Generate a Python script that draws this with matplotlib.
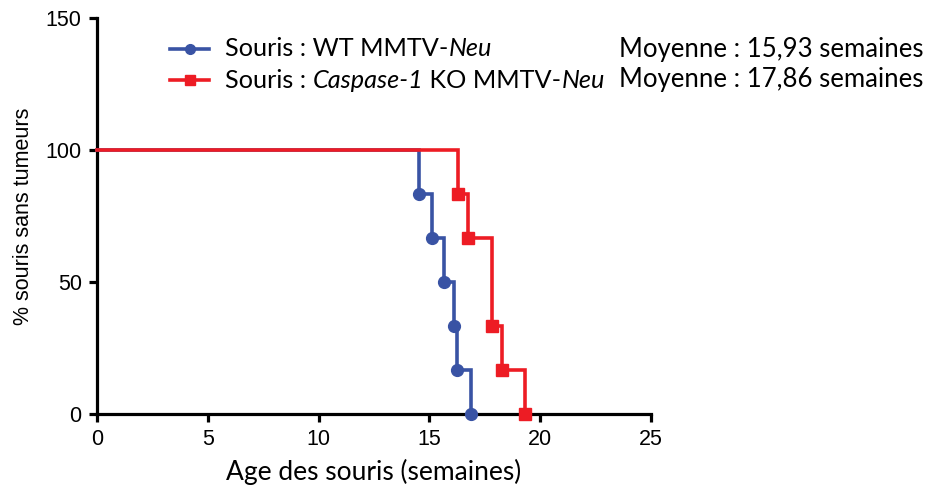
import matplotlib
matplotlib.use("Agg")
import matplotlib.pyplot as plt
from matplotlib.lines import Line2D

# Tumour-free survival, MMTV-Neu mice (age in weeks, % tumour-free)
wt_weeks = [14.53, 15.13, 15.67, 16.12, 16.26, 16.86]
wt_free = [83.33, 66.67, 50.0, 33.33, 16.67, 0.0]
ko_weeks = [16.30, 16.73, 17.84, 18.26, 19.30]
ko_free = [83.33, 66.67, 33.33, 16.67, 0.0]
start_free = 100.0

x_ticks = [0, 5, 10, 15, 20, 25]
y_ticks = [0, 50, 100, 150]

wt_label = [("Souris : WT MMTV-", "normal"), ("Neu", "italic")]
ko_label = [("Souris : ", "normal"), ("Caspase-1", "italic"),
            (" KO MMTV-", "normal"), ("Neu", "italic")]
wt_mean = "Moyenne : 15,93 semaines"
ko_mean = "Moyenne : 17,86 semaines"

x_label = "Age des souris (semaines)"
y_label = "% souris sans tumeurs"

BLUE = "#3953a4"
RED = "#ed1c24"
W, H = 930, 490
TEXT_FONT = "Lato"
AXIS_FONT = "Liberation Sans"

fig = plt.figure(figsize=(W / 100, H / 100), dpi=100)
ax = fig.add_axes([97 / W, 1 - 414 / H, (651 - 97) / W, (414 - 18) / H])


def fx(px):
    return px / W


def fy(py):
    return 1 - py / H


# survival steps
ax.step([0] + wt_weeks, [start_free] + wt_free, where="post", color=BLUE,
        lw=2.6, zorder=4, clip_on=False, solid_joinstyle="miter")
ax.plot(wt_weeks, wt_free, "o", color=BLUE, ms=8.5, zorder=5, clip_on=False)
ax.step([0] + ko_weeks, [start_free] + ko_free, where="post", color=RED,
        lw=2.6, zorder=6, clip_on=False, solid_joinstyle="miter")
ax.plot(ko_weeks, ko_free, "s", color=RED, ms=8, zorder=7, clip_on=False)

ax.set_xlim(0, 25)
ax.set_ylim(0, 150)
ax.set_xticks(x_ticks)
ax.set_yticks(y_ticks)
for s in ("top", "right"):
    ax.spines[s].set_visible(False)
for s in ("left", "bottom"):
    ax.spines[s].set_linewidth(2.3)
ax.tick_params(axis="both", length=6, width=2.3, pad=5, labelsize=15.5,
               direction="out")
for lab in ax.get_xticklabels() + ax.get_yticklabels():
    lab.set_family(AXIS_FONT)

ax.set_xlabel(x_label, family=TEXT_FONT, fontsize=19, labelpad=6)
ax.set_ylabel(y_label, family=AXIS_FONT, fontsize=15.5, labelpad=8)

renderer = fig.canvas.get_renderer()


def draw_pieces(pieces, x0, y0, size):
    x = x0
    for txt, style in pieces:
        t = fig.text(fx(x), fy(y0), txt, family=TEXT_FONT, style=style,
                     weight="normal", fontsize=size, va="center", ha="left")
        bb = t.get_window_extent(renderer)
        x += bb.width
    return x


legend_rows = [
    (wt_label, wt_mean, BLUE, "o", 49),
    (ko_label, ko_mean, RED, "s", 80),
]
for pieces, mean, col, mk, y in legend_rows:
    fig.add_artist(Line2D([fx(170), fx(209)], [fy(y), fy(y)],
                          transform=fig.transFigure, color=col, lw=2.6))
    fig.add_artist(Line2D([fx(189.5)], [fy(y)], transform=fig.transFigure,
                          color=col, marker=mk, ms=7 if mk == "o" else 6.5))
    draw_pieces(pieces, 225, y, 18.2)
    fig.text(fx(619), fy(y), mean, family=TEXT_FONT, fontsize=18.5,
             va="center", ha="left")

fig.savefig("out.png", dpi=100)
